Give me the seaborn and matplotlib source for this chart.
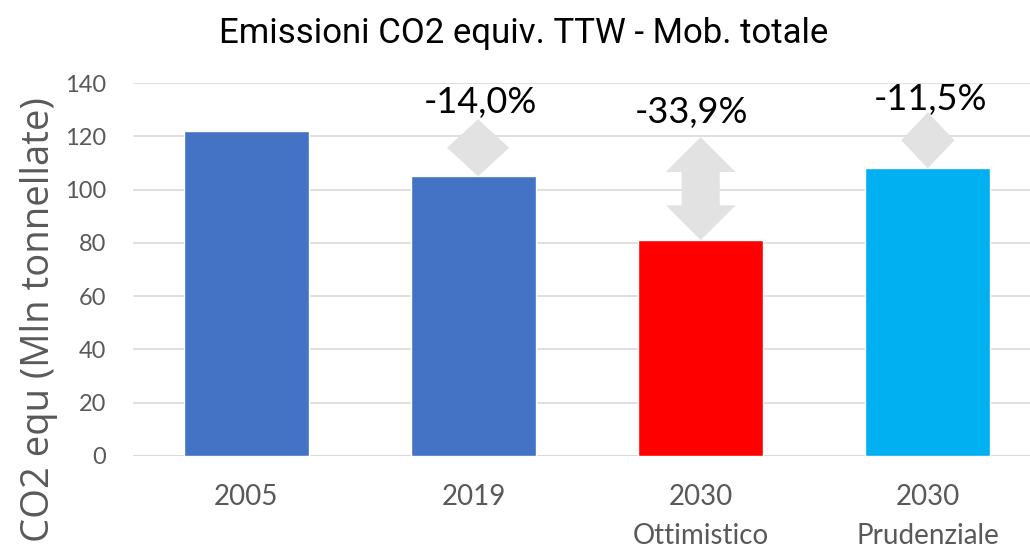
import numpy as np
import pandas as pd
import seaborn as sns
from matplotlib import pyplot as plt
from matplotlib.patches import Polygon

categories = ["2005", "2019", "2030\nOttimistico", "2030\nPrudenziale"]
emissions = [122, 105, 81, 108]
bar_colors = ["#4472C4", "#4472C4", "#FF0000", "#00B0F0"]
pct_labels = ["-14,0%", "-33,9%", "-11,5%"]

# layout of the grey arrows / labels
arrow_top = [126.4, 119.7, 129]
arrow_head_w = [0.137, 0.154, 0.117]
arrow_dx = [0.02, 0.0, 0.0]
label_base = [128.8, 125, 130]
label_dx = [0.03, -0.04, 0.01]

df = pd.DataFrame({"scenario": categories, "co2": emissions})

sns.set_theme(style="white")
plt.rcParams["font.family"] = ["Lato", "DejaVu Sans"]

fig = plt.figure(figsize=(10.3, 5.5), dpi=100)
ax = fig.add_axes([0.129, 0.171, 0.871, 0.678])

sns.barplot(data=df, x="scenario", y="co2", hue="scenario", palette=bar_colors,
            width=0.55, legend=False, ax=ax, saturation=1)

ax.set_ylim(0, 140)
ax.set_xlim(-0.5, 3.45)
ax.set_yticks(range(0, 141, 20))
ax.yaxis.grid(True, color="#d9d9d9", linewidth=1.2)
ax.set_axisbelow(True)
sns.despine(ax=ax, left=True, bottom=True)
ax.axhline(0, color="#d9d9d9", linewidth=1.2, zorder=0)
ax.tick_params(axis="both", length=0, colors="#595959")
ax.tick_params(axis="x", pad=20, labelsize=20)
ax.tick_params(axis="y", pad=19, labelsize=17)
for t in ax.get_xticklabels():
    t.set_linespacing(1.65)
ax.set_xlabel("")
ax.set_ylabel("CO2 equ (Mln tonnellate)", fontsize=27.5, color="#595959",
              family="Open Sans")
ax.yaxis.set_label_coords(-0.083, 0.365)
fig.text(0.508, 0.94, "Emissioni CO2 equiv. TTW - Mob. totale", fontsize=25,
         family="Roboto", color="black", ha="center", va="center")


def double_arrow(ax, x, y_top, y_bot, head_w, shaft_w=0.084, head_len=13.1):
    h = min(head_len, (y_top - y_bot) / 2)
    pts = [
        (x, y_top), (x + head_w, y_top - h), (x + shaft_w, y_top - h),
        (x + shaft_w, y_bot + h), (x + head_w, y_bot + h), (x, y_bot),
        (x - head_w, y_bot + h), (x - shaft_w, y_bot + h),
        (x - shaft_w, y_top - h), (x - head_w, y_top - h),
    ]
    ax.add_patch(Polygon(pts, closed=True, facecolor="#e2e2e2", edgecolor="none",
                         zorder=3))


for i, lab in enumerate(pct_labels):
    xi = i + 1
    double_arrow(ax, xi + arrow_dx[i], arrow_top[i], emissions[xi], arrow_head_w[i])
    ax.text(xi + label_dx[i], label_base[i], lab, ha="center", va="baseline",
            fontsize=26, color="black", zorder=4)

fig.savefig("out.png", dpi=100)
